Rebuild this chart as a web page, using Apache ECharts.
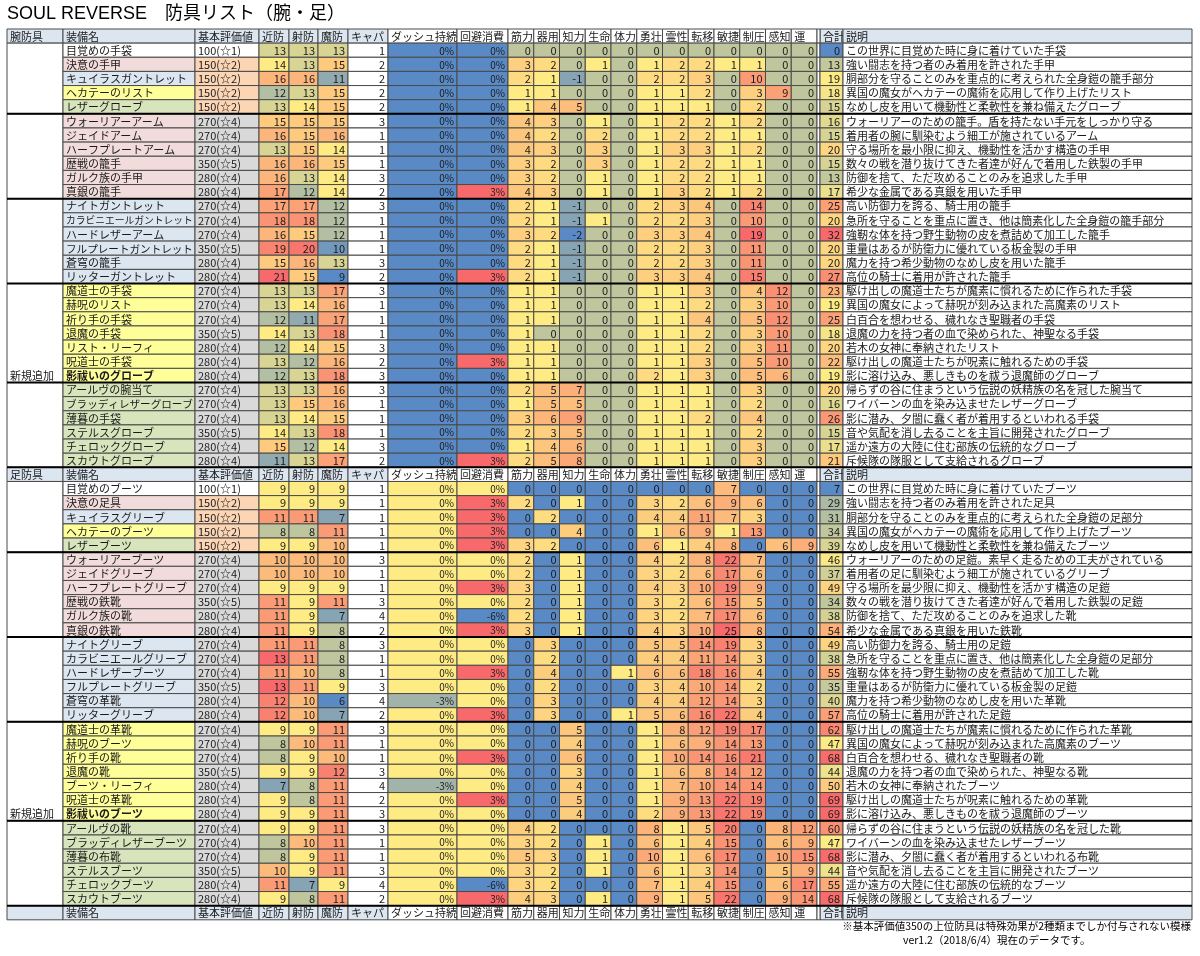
<!DOCTYPE html>
<html><head><meta charset="utf-8">
<script src="https://cdn.jsdelivr.net/npm/echarts@6/dist/echarts.min.js"></script>
<style>html,body{margin:0;padding:0;background:#fff}#c{width:1200px;height:956px}</style>
</head><body><div id="c"></div>
<script>
// ---------------- DATA ----------------
const headerCols = ['装備名','基本評価値','近防','射防','魔防','キャパ','ダッシュ持続','回避消費','筋力','器用','知力','生命','体力','勇壮','霊性','転移','敏捷','制圧','感知','運','合計','説明'];
const sectionLabels = ['腕防具','足防具'];
const groupSizes = [5,6,6,7,6];
const groupLabels = ['','','','新規追加',''];
const rowFamily = ['base','warrior','knight','mage','scout',
 'warrior','warrior','warrior','warrior','warrior','warrior',
 'knight','knight','knight','knight','knight','knight',
 'mage','mage','mage','mage','mage','mage','mage',
 'scout','scout','scout','scout','scout','scout'];
const boldNames = ['影祓いのグローブ','影祓いのブーツ'];
const ranks = ['100(☆1)','150(☆2)','150(☆2)','150(☆2)','150(☆2)','270(☆4)','270(☆4)','270(☆4)','350(☆5)','280(☆4)','280(☆4)','270(☆4)','270(☆4)','270(☆4)','350(☆5)','280(☆4)','280(☆4)','270(☆4)','270(☆4)','270(☆4)','350(☆5)','280(☆4)','280(☆4)','280(☆4)','270(☆4)','270(☆4)','270(☆4)','350(☆5)','280(☆4)','280(☆4)'];

const armNames = ['目覚めの手袋','決意の手甲','キュイラスガントレット','ヘカテーのリスト','レザーグローブ','ウォーリアーアーム','ジェイドアーム','ハーフプレートアーム','歴戦の籠手','ガルク族の手甲','真銀の籠手','ナイトガントレット','カラビニエールガントレット','ハードレザーアーム','フルプレートガントレット','蒼穹の籠手','リッターガントレット','魔道士の手袋','赫呪のリスト','祈り手の手袋','退魔の手袋','リスト・リーフィ','呪道士の手袋','影祓いのグローブ','アールヴの腕当て','ブラッディレザーグローブ','薄暮の手袋','ステルスグローブ','チェロックグローブ','スカウトグローブ'];
const armMelee = [13,14,16,12,13,15,16,13,16,16,17,17,18,16,19,15,21,13,13,12,14,12,13,12,13,13,13,14,15,11];
const armRanged = [13,13,16,13,14,15,15,15,16,13,12,17,18,15,20,16,15,13,14,11,13,14,12,13,13,15,14,13,12,13];
const armMagic = [13,15,11,15,15,15,16,14,15,14,14,12,12,12,10,13,9,17,16,17,18,15,16,18,16,16,15,18,14,17];
const armCapa = [1,2,2,2,2,3,1,1,1,3,2,3,1,1,1,3,2,3,1,1,1,3,2,3,3,1,1,1,3,2];
const armDash = [0,0,0,0,0,0,0,0,0,0,0,0,0,0,0,0,0,0,0,0,0,0,0,0,0,0,0,0,0,0];
const armEvade = [0,0,0,0,0,0,0,0,0,0,3,0,0,0,0,0,3,0,0,0,0,0,3,0,0,0,0,0,0,3];
const armStats = [
[0,0,0,0,0,0,0,0,0,0,0,0],[3,2,0,1,0,1,2,2,1,1,0,0],[2,1,-1,0,0,2,2,3,0,10,0,0],[1,1,0,0,0,1,1,2,0,3,9,0],[1,4,5,0,0,1,1,1,0,2,0,0],
[4,3,0,1,0,1,2,2,1,2,0,0],[4,2,0,2,0,1,2,2,1,1,0,0],[4,3,0,3,0,1,3,3,1,2,0,0],[3,2,0,3,0,1,2,2,1,1,0,0],[3,2,0,1,0,1,2,2,1,1,0,0],[4,3,0,1,0,1,3,2,1,2,0,0],
[2,1,-1,0,0,2,3,4,0,14,0,0],[2,1,-1,1,0,2,2,3,0,10,0,0],[3,2,-2,0,0,3,3,4,0,19,0,0],[2,1,-1,0,0,2,2,3,0,11,0,0],[2,1,-1,0,0,2,2,3,0,11,0,0],[2,1,-1,0,0,3,3,4,0,15,0,0],
[1,1,0,0,0,1,1,3,0,4,12,0],[1,1,0,0,0,1,1,2,0,3,10,0],[1,1,0,0,0,1,1,4,0,5,12,0],[1,0,0,0,0,1,1,2,0,3,10,0],[1,1,0,0,0,1,1,2,0,3,11,0],[1,1,0,0,0,1,1,3,0,5,10,0],[1,1,0,0,0,2,1,3,0,5,6,0],
[2,5,7,0,0,1,1,1,0,3,0,0],[1,5,5,0,0,1,1,1,0,2,0,0],[3,6,9,0,0,1,1,2,0,4,0,0],[2,3,5,0,0,1,1,1,0,2,0,0],[1,4,6,0,0,1,1,1,0,3,0,0],[2,5,8,0,0,1,1,1,0,3,0,0]];
const armTotal = [0,13,19,18,15,16,15,20,15,13,17,25,20,32,20,20,27,23,19,25,18,20,22,19,20,16,26,15,17,21];
const armDesc = ['この世界に目覚めた時に身に着けていた手袋','強い闘志を持つ者のみ着用を許された手甲','胴部分を守ることのみを重点的に考えられた全身鎧の籠手部分','異国の魔女がヘカテーの魔術を応用して作り上げたリスト','なめし皮を用いて機動性と柔軟性を兼ね備えたグローブ','ウォーリアーのための籠手。盾を持たない手元をしっかり守る','着用者の腕に馴染むよう細工が施されているアーム','守る場所を最小限に抑え、機動性を活かす構造の手甲','数々の戦を潜り抜けてきた者達が好んで着用した鉄製の手甲','防御を捨て、ただ攻めることのみを追求した手甲','希少な金属である真銀を用いた手甲','高い防御力を誇る、騎士用の籠手','急所を守ることを重点に置き、他は簡素化した全身鎧の籠手部分','強靭な体を持つ野生動物の皮を煮詰めて加工した籠手','重量はあるが防衛力に優れている板金製の手甲','魔力を持つ希少動物のなめし皮を用いた籠手','高位の騎士に着用が許された籠手','駆け出しの魔道士たちが魔素に慣れるために作られた手袋','異国の魔女によって赫呪が刻み込まれた高魔素のリスト','白百合を想わせる、穢れなき聖職者の手袋','退魔の力を持つ者の血で染められた、神聖なる手袋','若木の女神に奉納されたリスト','駆け出しの魔道士たちが呪素に触れるための手袋','影に溶け込み、悪しきものを祓う退魔師のグローブ','帰らずの谷に住まうという伝説の妖精族の名を冠した腕当て','ワイバーンの血を染み込ませたレザーグローブ','影に潜み、夕闇に蠢く者が着用するといわれる手袋','音や気配を消し去ることを主旨に開発されたグローブ','遥か遠方の大陸に住む部族の伝統的なグローブ','斥候隊の隊服として支給されるグローブ'];

const legNames = ['目覚めのブーツ','決意の足具','キュイラスグリーブ','ヘカテーのブーツ','レザーブーツ','ウォーリアーブーツ','ジェイドグリーブ','ハーフプレートグリーブ','歴戦の鉄靴','ガルク族の靴','真銀の鉄靴','ナイトグリーブ','カラビニエールグリーブ','ハードレザーブーツ','フルプレートグリーブ','蒼穹の革靴','リッターグリーブ','魔道士の革靴','赫呪のブーツ','祈り手の靴','退魔の靴','ブーツ・リーフィ','呪道士の革靴','影祓いのブーツ','アールヴの靴','ブラッディレザーブーツ','薄暮の布靴','ステルスブーツ','チェロックブーツ','スカウトブーツ'];
const legMelee = [9,9,11,8,9,10,10,9,11,11,11,11,13,11,13,12,12,9,8,8,9,7,9,9,9,8,8,10,11,9];
const legRanged = [9,9,11,8,9,10,10,9,9,9,9,11,11,10,11,10,10,9,10,9,9,8,8,9,9,10,9,9,7,8];
const legMagic = [9,9,7,11,10,10,10,9,11,7,8,8,8,8,9,6,7,11,11,10,12,11,11,11,11,11,11,11,9,11];
const legCapa = [1,1,1,1,1,3,1,1,3,4,2,3,1,1,3,4,2,3,1,1,3,4,2,3,3,1,1,3,4,2];
const legDash = [0,0,0,0,0,0,0,0,0,0,0,0,0,0,0,-3,0,0,0,0,0,-3,0,0,0,0,0,0,0,0];
const legEvade = [0,3,3,3,3,0,0,3,0,-6,3,0,0,3,0,0,3,0,0,3,0,0,3,0,0,0,0,0,-6,3];
const legStats = [
[0,0,0,0,0,0,0,0,7,0,0,0],[2,0,1,0,0,3,2,6,9,6,0,0],[0,2,0,0,0,4,4,11,7,3,0,0],[0,0,4,0,0,1,6,9,1,13,0,0],[3,2,0,0,0,6,1,4,8,0,6,9],
[2,0,1,0,0,4,2,8,22,7,0,0],[2,0,1,0,0,3,2,6,17,6,0,0],[3,0,1,0,0,4,3,10,19,9,0,0],[2,0,1,0,0,3,2,6,15,5,0,0],[2,0,1,0,0,3,2,7,17,6,0,0],[3,0,1,0,0,4,3,10,25,8,0,0],
[0,3,0,0,0,5,5,14,19,3,0,0],[0,2,0,0,0,4,4,11,14,3,0,0],[0,4,0,0,1,6,6,18,16,4,0,0],[0,2,0,0,0,3,4,10,14,2,0,0],[0,3,0,0,0,4,4,12,14,3,0,0],[0,3,0,0,1,5,6,16,22,4,0,0],
[0,0,5,0,0,1,8,12,19,17,0,0],[0,0,4,0,0,1,6,9,14,13,0,0],[0,0,6,0,0,1,10,14,16,21,0,0],[0,0,3,0,0,1,6,8,14,12,0,0],[0,0,4,0,0,1,7,10,14,14,0,0],[0,0,5,0,0,1,9,13,22,19,0,0],[0,0,4,0,0,2,9,13,22,19,0,0],
[4,2,0,0,0,8,1,5,20,0,8,12],[3,2,0,1,0,6,1,4,15,0,6,9],[5,3,0,1,0,10,1,6,17,0,10,15],[3,2,0,1,0,6,1,3,14,0,5,9],[3,2,0,0,0,7,1,4,15,0,6,17],[4,3,0,1,0,9,1,5,22,0,9,14]];
const legTotal = [7,29,31,34,39,46,37,49,34,38,54,49,38,55,35,40,57,62,47,68,44,50,69,69,60,47,68,44,55,68];
const legDesc = ['この世界に目覚めた時に身に着けていたブーツ','強い闘志を持つ者のみ着用を許された足具','胴部分を守ることのみを重点的に考えられた全身鎧の足部分','異国の魔女がヘカテーの魔術を応用して作り上げたブーツ','なめし皮を用いて機動性と柔軟性を兼ね備えたブーツ','ウォーリアーのための足鎧。素早く走るための工夫がされている','着用者の足に馴染むよう細工が施されているグリーブ','守る場所を最少限に抑え、機動性を活かす構造の足鎧','数々の戦を潜り抜けてきた者達が好んで着用した鉄製の足鎧','防御を捨て、ただ攻めることのみを追求した靴','希少な金属である真銀を用いた鉄靴','高い防御力を誇る、騎士用の足鎧','急所を守ることを重点に置き、他は簡素化した全身鎧の足部分','強靭な体を持つ野生動物の皮を煮詰めて加工した靴','重量はあるが防衛力に優れている板金製の足鎧','魔力を持つ希少動物のなめし皮を用いた革靴','高位の騎士に着用が許された足鎧','駆け出しの魔道士たちが魔素に慣れるために作られた革靴','異国の魔女によって赫呪が刻み込まれた高魔素のブーツ','白百合を想わせる、穢れなき聖職者の靴','退魔の力を持つ者の血で染められた、神聖なる靴','若木の女神に奉納されたブーツ','駆け出しの魔道士たちが呪素に触れるための革靴','影に溶け込み、悪しきものを祓う退魔師のブーツ','帰らずの谷に住まうという伝説の妖精族の名を冠した靴','ワイバーンの血を染み込ませたレザーブーツ','影に潜み、夕闇に蠢く者が着用するといわれる布靴','音や気配を消し去ることを主旨に開発されたブーツ','遥か遠方の大陸に住む部族の伝統的なブーツ','斥候隊の隊服として支給されるブーツ'];

const titleText = 'SOUL REVERSE　防具リスト（腕・足）';
const noteText1 = '※基本評価値350の上位防具は特殊効果が2種類までしか付与されない模様';
const noteText2 = 'ver1.2（2018/6/4）現在のデータです。';

// ---------------- STYLE / LAYOUT ----------------
const FONT = "'Noto Sans CJK JP', 'Noto Sans', sans-serif";
const TEXT = '#1a1a1a';
const BLUE=[90,138,198], YEL=[255,235,132], RED=[248,105,107];
const familyFill = {base:'#ffffff', warrior:'#f2dcdb', knight:'#dce6f1', mage:'#ffff99', scout:'#d8e4bc'};
const HEADER_BLUE = '#dce6f1';
const statW = (817-508)/12;
const colWidths = [56,132,64,30,29,30,40,69,51].concat(Array(12).fill(statW)).concat([3,23,349]);
const edges = [7];
colWidths.forEach(w => edges.push(edges[edges.length-1]+w));
const TABLE_TOP = 29, ROW_H = 14.14;

function mix(a,b,t){return 'rgb('+a.map((v,i)=>Math.round(v+(b[i]-v)*t)).join(',')+')';}
function pct50(arr){const s=[...arr].sort((a,b)=>a-b);const p=(s.length-1)*0.5;const lo=Math.floor(p),hi=Math.ceil(p);return s[lo]+(s[hi]-s[lo])*(p-lo);}
function makeScale(vals){return {min:Math.min(...vals),max:Math.max(...vals),mid:pct50(vals)};}
function heat(v,s){
  if (v<=s.min) return mix(BLUE,BLUE,0);
  if (v>=s.max) return mix(RED,RED,0);
  if (v<=s.mid) return mix(BLUE,YEL,Math.pow((v-s.min)/(s.mid-s.min),1.2));
  return mix(YEL,RED,Math.pow((v-s.mid)/(s.max-s.mid),0.7));
}
function rankFill(r){const n=parseInt(r,10); return n===100?'#ffffff':(n===150?'#fcd5b4':'#d9d9d9');}

const sections = [
 {label:sectionLabels[0], names:armNames, melee:armMelee, ranged:armRanged, magic:armMagic, capa:armCapa, dash:armDash, evade:armEvade, stats:armStats, total:armTotal, desc:armDesc},
 {label:sectionLabels[1], names:legNames, melee:legMelee, ranged:legRanged, magic:legMagic, capa:legCapa, dash:legDash, evade:legEvade, stats:legStats, total:legTotal, desc:legDesc}
];

const cells = [];
const seps = [];
let row = 0;
function headerRow(label){
  cells.push({col:0,row,fill:HEADER_BLUE,text:label,align:'left'});
  const map = [1,2,3,4,5,6,7,8,9,10,11,12,13,14,15,16,17,18,19,20,22,23];
  headerCols.forEach((h,i)=>{
    const c = map[i];
    const fill = (c>=7 && c<=20) ? '#ffffff' : HEADER_BLUE;
    cells.push({col:c,row,fill,text:h,align:'left'});
  });
  cells.push({col:21,row,fill:'#ffffff',text:''});
  row++;
}
sections.forEach(sec=>{
  headerRow(sec.label);
  const defScale = makeScale(sec.melee.concat(sec.ranged, sec.magic));
  const peScale = makeScale(sec.dash.concat(sec.evade));
  const stScale = makeScale([].concat(...sec.stats));
  const totScale = makeScale(sec.total);
  let start = 0;
  groupSizes.forEach((g,gi)=>{
    cells.push({col:0,row:row+start,span:g,fill:'#ffffff',text:groupLabels[gi],align:'left'});
    if (gi>0) seps.push(row+start);
    start += g;
  });
  seps.push(row+start);
  sec.names.forEach((nm,i)=>{
    const nameFs = Math.min(11, (colWidths[1]-5)/nm.length);
    cells.push({col:1,row,fill:familyFill[rowFamily[i]],text:nm,align:'left',bold:boldNames.includes(nm),fs:nameFs});
    cells.push({col:2,row,fill:rankFill(ranks[i]),text:ranks[i],align:'left'});
    [sec.melee[i],sec.ranged[i],sec.magic[i]].forEach((v,k)=>cells.push({col:3+k,row,fill:heat(v,defScale),text:v,align:'right'}));
    cells.push({col:6,row,fill:'#ffffff',text:sec.capa[i],align:'right'});
    cells.push({col:7,row,fill:heat(sec.dash[i],peScale),text:sec.dash[i]+'%',align:'right',fs:10});
    cells.push({col:8,row,fill:heat(sec.evade[i],peScale),text:sec.evade[i]+'%',align:'right',fs:10});
    sec.stats[i].forEach((v,k)=>cells.push({col:9+k,row,fill:heat(v,stScale),text:v,align:'right'}));
    cells.push({col:21,row,fill:'#ffffff',text:''});
    cells.push({col:22,row,fill:heat(sec.total[i],totScale),text:sec.total[i],align:'right'});
    cells.push({col:23,row,fill:'#ffffff',text:sec.desc[i],align:'left'});
    row++;
  });
});
headerRow('');
const rowIds = Array.from({length:row},(_,i)=>'r'+i);

function renderCell(params, api){
  const c = cells[params.dataIndex];
  const a = api.coord([api.value(0), api.value(1)]);
  const b = api.coord([api.value(2), api.value(1)]);
  const h = api.size([0,1])[1];
  const span = api.value(3);
  const y0 = a[1]-h/2, H = h*span;
  const ch = [{type:'rect', shape:{x:a[0], y:y0, width:b[0]-a[0], height:H}, style:{fill:c.fill, stroke:'#4a4a4a', lineWidth:1}}];
  if (c.text !== '' && c.text != null) {
    const ty = y0 + H - h/2 + 0.5;
    const tx = c.align==='right' ? b[0]-3 : a[0]+3;
    ch.push({type:'text', style:{text:String(c.text), x:tx, y:ty, align:c.align, verticalAlign:'middle',
      fontSize:c.fs||11, fontWeight:c.bold?'bold':'normal', fontFamily:FONT, fill:TEXT}});
  }
  return {type:'group', children:ch};
}
function renderSep(params, api){
  const a = api.coord([api.value(0), api.value(1)]);
  const b = api.coord([api.value(2), api.value(1)]);
  const h = api.size([0,1])[1];
  const y = a[1]-h/2;
  return {type:'line', shape:{x1:a[0], y1:y, x2:b[0], y2:y}, style:{stroke:'#000', lineWidth:2}};
}

const chart = echarts.init(document.getElementById('c'), null, {renderer:'canvas'});
chart.setOption({
  animation:false,
  backgroundColor:'#ffffff',
  title:[
    {text:titleText, left:7, top:5, padding:0, textStyle:{fontSize:18, fontWeight:'normal', color:'#000', fontFamily:"'Liberation Sans', 'Noto Sans CJK JP', sans-serif"}},
    {text:noteText1, right:9, top:921, padding:0, textStyle:{fontSize:10.5, fontWeight:'normal', color:'#000', fontFamily:FONT}},
    {text:noteText2, left:903, top:935, padding:0, textStyle:{fontSize:10.5, fontWeight:'normal', color:'#000', fontFamily:FONT}}
  ],
  grid:{left:0, right:0, top:TABLE_TOP, height:ROW_H*row},
  xAxis:{type:'value', min:0, max:1200, show:false},
  yAxis:{type:'category', data:rowIds, inverse:true, show:false},
  series:[
    {type:'custom', renderItem:renderCell, encode:{x:0,y:1}, clip:false,
     data:cells.map(c=>[edges[c.col], c.row, edges[c.col+1], c.span||1])},
    {type:'custom', renderItem:renderSep, encode:{x:0,y:1}, clip:false,
     data:seps.map(r=>[edges[0], r, edges[edges.length-1]])}
  ]
});
</script>
</body></html>
